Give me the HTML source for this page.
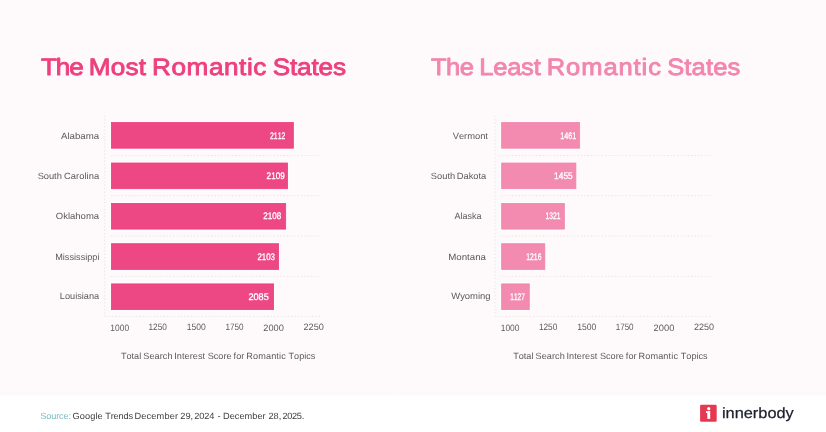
<!DOCTYPE html>
<html lang="en">
<head>
<meta charset="utf-8">
<title>The Most and Least Romantic States</title>
<style>
html,body{margin:0;padding:0;background:#fff;}
body{width:826px;height:432px;overflow:hidden;position:relative;}
svg{display:block;position:absolute;left:0;top:0;}
text{font-family:"Liberation Sans",sans-serif;text-rendering:geometricPrecision;white-space:pre;}
</style>
</head>
<body>
<svg width="826" height="432" viewBox="0 0 826 432">
<rect x="0" y="0" width="826" height="395.6" fill="#fef9fa"/>
<rect x="394.7" y="0" width="2.1" height="395.6" fill="#fefbfc"/>
<rect x="0" y="395.6" width="826" height="36.4" fill="#ffffff"/>
<text x="37.03 50.45 62.58 75.71 80.26 100.06 113.34 125.28 131.84 137.41 154.96 168.59 188.75 202.38 216.01 223.07 228.82 240.62 246.46 262.05 268.45 281.42 287.82 300.79" y="74.75" font-size="23.6" fill="#ee407e" stroke="#ee407e" stroke-width="0.85" stroke-linejoin="round" transform="scale(1.1068 1)">The Most Romantic States</text>
<line x1="104.75" y1="115.5" x2="104.75" y2="316.4" stroke="#eae4e7" stroke-width="0.85" stroke-dasharray="1.6 1.85"/>
<line x1="111.0" y1="155.5" x2="321.8" y2="155.5" stroke="#eae4e7" stroke-width="0.85" stroke-dasharray="1.6 1.85"/>
<line x1="111.0" y1="195.7" x2="321.8" y2="195.7" stroke="#eae4e7" stroke-width="0.85" stroke-dasharray="1.6 1.85"/>
<line x1="111.0" y1="236.0" x2="321.8" y2="236.0" stroke="#eae4e7" stroke-width="0.85" stroke-dasharray="1.6 1.85"/>
<line x1="111.0" y1="276.3" x2="321.8" y2="276.3" stroke="#eae4e7" stroke-width="0.85" stroke-dasharray="1.6 1.85"/>
<line x1="104.75" y1="316.4" x2="321.8" y2="316.4" stroke="#eae4e7" stroke-width="0.85" stroke-dasharray="1.6 1.85"/>
<rect x="110.00" y="121.10" width="184.75" height="28.50" fill="#ffffff"/>
<rect x="111.40" y="122.50" width="181.95" height="25.70" fill="#ee4884" stroke="#eb3e7b" stroke-width="0.8"/>
<text x="56.83 62.83 64.83 69.83 74.84 79.84 87.34" y="138.6" font-size="9" fill="#5a5a5a" transform="scale(1.0731 1)">Alabama</text>
<text x="381.02 386.4 391.78 397.16" y="139" font-size="9.6" fill="#ffffff" stroke="#ffffff" stroke-width="0.3" stroke-linejoin="round" transform="scale(0.7087 1)">2112</text>
<rect x="110.00" y="161.60" width="178.90" height="28.50" fill="#ffffff"/>
<rect x="111.40" y="163.00" width="176.10" height="25.70" fill="#ee4884" stroke="#eb3e7b" stroke-width="0.8"/>
<text x="36.27 42.22 47.16 52.11 54.55 59.56 61.55 68.1 73.15 76.2 81.25 83.3 85.35 90.41" y="178.8" font-size="9" fill="#5a5a5a" transform="scale(1.0386 1)">South Carolina</text>
<text x="316.51 321.87 327.23 332.59" y="178.9" font-size="9.6" fill="#ffffff" stroke="#ffffff" stroke-width="0.3" stroke-linejoin="round" transform="scale(0.8424 1)">2109</text>
<rect x="110.00" y="202.00" width="177.10" height="28.50" fill="#ffffff"/>
<rect x="111.40" y="203.40" width="174.30" height="25.70" fill="#ee4884" stroke="#eb3e7b" stroke-width="0.8"/>
<text x="52.86 59.86 64.36 66.36 71.37 76.37 81.38 88.87" y="219.2" font-size="9" fill="#5a5a5a" transform="scale(1.0556 1)">Oklahoma</text>
<text x="314.88 320.24 325.6 330.96" y="219.1" font-size="9.6" fill="#ffffff" stroke="#ffffff" stroke-width="0.3" stroke-linejoin="round" transform="scale(0.8359 1)">2108</text>
<rect x="110.00" y="242.30" width="170.00" height="28.50" fill="#ffffff"/>
<rect x="111.40" y="243.70" width="167.20" height="25.70" fill="#ee4884" stroke="#eb3e7b" stroke-width="0.8"/>
<text x="54.07 61.57 63.57 68.07 72.57 74.57 79.07 83.57 85.57 90.57 95.58" y="259.8" font-size="9" fill="#5a5a5a" transform="scale(1.0199 1)">Mississippi</text>
<text x="315.32 320.68 326.04 331.4" y="259.7" font-size="9.6" fill="#ffffff" stroke="#ffffff" stroke-width="0.3" stroke-linejoin="round" transform="scale(0.8166 1)">2103</text>
<rect x="110.00" y="282.50" width="165.00" height="28.50" fill="#ffffff"/>
<rect x="111.40" y="283.90" width="162.20" height="25.70" fill="#ee4884" stroke="#eb3e7b" stroke-width="0.8"/>
<text x="58.75 63.75 68.76 73.76 75.76 80.26 82.26 87.27 92.27" y="299.2" font-size="9" fill="#5a5a5a" transform="scale(1.0187 1)">Louisiana</text>
<text x="261.47 266.81 272.15 277.5" y="300" font-size="9.6" fill="#ffffff" stroke="#ffffff" stroke-width="0.3" stroke-linejoin="round" transform="scale(0.9502 1)">2085</text>
<text x="120.66 125.77 130.89 136.01" y="330.7" font-size="9.2" fill="#5a5a5a" transform="scale(0.9147 1)">1000</text>
<text x="165.59 170.71 175.82 180.94" y="330.3" font-size="9.2" fill="#5a5a5a" transform="scale(0.8966 1)">1250</text>
<text x="201.34 206.46 211.57 216.69" y="329.7" font-size="9.2" fill="#5a5a5a" transform="scale(0.9275 1)">1500</text>
<text x="255.78 260.9 266.01 271.13" y="330" font-size="9.2" fill="#5a5a5a" transform="scale(0.8812 1)">1750</text>
<text x="261.88 266.99 272.11 277.23" y="330.5" font-size="9.2" fill="#5a5a5a" transform="scale(1.0054 1)">2000</text>
<text x="305.79 310.9 316.02 321.14" y="330.4" font-size="9.2" fill="#5a5a5a" transform="scale(0.9927 1)">2250</text>
<text x="119.48 124.95 129.93 132.4 137.38 139.38 141.48 147.54 152.59 157.65 160.7 165.25 170.26 171.9 174.49 179.58 182.16 187.25 190.33 195.42 200.01 202.51 205 211 215.5 220.5 223.5 228.51 230.6 233.09 238.09 241.09 242.96 249.63 254.8 262.46 267.64 272.81 275.47 277.64 282.14 284.81 290.29 295.28 300.27 302.26 306.75" y="359.4" font-size="9" fill="#5a5a5a" transform="scale(1.0131 1)">Total Search Interest Score for Romantic Topics</text>
<text x="398.68 412.54 425.12 438.24 443.09 456.03 468.96 481.9 493.51 500.06 505.61 523.5 537.47 557.97 571.94 585.91 593.31 599.4 611.2 616.97 632.86 639.57 652.84 659.55 672.82" y="74.75" font-size="23.6" fill="#f286ae" stroke="#f286ae" stroke-width="0.85" stroke-linejoin="round" transform="scale(1.0814 1)">The Least Romantic States</text>
<line x1="495.0" y1="115.5" x2="495.0" y2="316.4" stroke="#eae4e7" stroke-width="0.85" stroke-dasharray="1.6 1.85"/>
<line x1="501.25" y1="155.5" x2="711.9" y2="155.5" stroke="#eae4e7" stroke-width="0.85" stroke-dasharray="1.6 1.85"/>
<line x1="501.25" y1="195.7" x2="711.9" y2="195.7" stroke="#eae4e7" stroke-width="0.85" stroke-dasharray="1.6 1.85"/>
<line x1="501.25" y1="236.0" x2="711.9" y2="236.0" stroke="#eae4e7" stroke-width="0.85" stroke-dasharray="1.6 1.85"/>
<line x1="501.25" y1="276.3" x2="711.9" y2="276.3" stroke="#eae4e7" stroke-width="0.85" stroke-dasharray="1.6 1.85"/>
<line x1="495.0" y1="316.4" x2="711.9" y2="316.4" stroke="#eae4e7" stroke-width="0.85" stroke-dasharray="1.6 1.85"/>
<rect x="500.25" y="121.10" width="80.85" height="28.50" fill="#ffffff"/>
<rect x="501.65" y="122.50" width="78.05" height="25.70" fill="#f38ab0" stroke="#f283ab" stroke-width="0.8"/>
<text x="436.72 442.72 447.72 450.72 458.22 463.22 468.23" y="138.6" font-size="9" fill="#5a5a5a" transform="scale(1.0366 1)">Vermont</text>
<text x="747.74 753.11 758.48 763.85" y="139" font-size="9.6" fill="#ffffff" stroke="#ffffff" stroke-width="0.3" stroke-linejoin="round" transform="scale(0.7491 1)">1461</text>
<rect x="500.25" y="161.60" width="77.05" height="28.50" fill="#ffffff"/>
<rect x="501.65" y="163.00" width="74.25" height="25.70" fill="#f38ab0" stroke="#f283ab" stroke-width="0.8"/>
<text x="415.94 421.95 426.96 431.97 434.48 439.48 440.96 447.45 452.45 456.95 461.95 464.45" y="178.8" font-size="9" fill="#5a5a5a" transform="scale(1.0358 1)">South Dakota</text>
<text x="636.64 641.99 647.35 652.7" y="178.9" font-size="9.6" fill="#ffffff" stroke="#ffffff" stroke-width="0.3" stroke-linejoin="round" transform="scale(0.8703 1)">1455</text>
<rect x="500.25" y="202.00" width="65.50" height="28.50" fill="#ffffff"/>
<rect x="501.65" y="203.40" width="62.70" height="25.70" fill="#f38ab0" stroke="#f283ab" stroke-width="0.8"/>
<text x="456.2 462.2 464.2 469.21 473.71 478.21" y="219.2" font-size="9" fill="#5a5a5a" transform="scale(0.9965 1)">Alaska</text>
<text x="782.57 787.95 793.34 798.72" y="219.1" font-size="9.6" fill="#ffffff" stroke="#ffffff" stroke-width="0.3" stroke-linejoin="round" transform="scale(0.6971 1)">1321</text>
<rect x="500.25" y="242.30" width="46.00" height="28.50" fill="#ffffff"/>
<rect x="501.65" y="243.70" width="43.20" height="25.70" fill="#f38ab0" stroke="#f283ab" stroke-width="0.8"/>
<text x="415.33 422.83 427.83 432.84 435.34 440.34 445.35" y="259.8" font-size="9" fill="#5a5a5a" transform="scale(1.0792 1)">Montana</text>
<text x="740.81 746.19 751.57 756.95" y="259.7" font-size="9.6" fill="#ffffff" stroke="#ffffff" stroke-width="0.3" stroke-linejoin="round" transform="scale(0.7103 1)">1216</text>
<rect x="500.25" y="282.50" width="30.45" height="28.50" fill="#ffffff"/>
<rect x="501.65" y="283.90" width="27.65" height="25.70" fill="#f38ab0" stroke="#f283ab" stroke-width="0.8"/>
<text x="429.52 438.02 442.52 447.52 455.02 457.02 462.03" y="299.2" font-size="9" fill="#5a5a5a" transform="scale(1.0505 1)">Wyoming</text>
<text x="750.12 755.51 760.89 766.28" y="300" font-size="9.6" fill="#ffffff" stroke="#ffffff" stroke-width="0.3" stroke-linejoin="round" transform="scale(0.6802 1)">1127</text>
<text x="545.94 551.06 556.18 561.29" y="330.7" font-size="9.2" fill="#5a5a5a" transform="scale(0.9172 1)">1000</text>
<text x="597.57 602.68 607.8 612.92" y="330.3" font-size="9.2" fill="#5a5a5a" transform="scale(0.9018 1)">1250</text>
<text x="618.8 623.91 629.03 634.15" y="329.7" font-size="9.2" fill="#5a5a5a" transform="scale(0.9327 1)">1500</text>
<text x="702.83 707.95 713.07 718.18" y="330" font-size="9.2" fill="#5a5a5a" transform="scale(0.8760 1)">1750</text>
<text x="645.23 650.35 655.47 660.58" y="330.5" font-size="9.2" fill="#5a5a5a" transform="scale(1.0130 1)">2000</text>
<text x="708.26 713.38 718.5 723.61" y="330.4" font-size="9.2" fill="#5a5a5a" transform="scale(0.9799 1)">2250</text>
<text x="506.65 512.12 517.1 519.57 524.55 526.55 528.65 534.71 539.76 544.82 547.87 552.42 557.43 559.07 561.66 566.75 569.33 574.42 577.51 582.6 587.18 589.68 592.17 598.17 602.67 607.68 610.67 615.68 617.77 620.26 625.26 628.26 630.13 636.8 641.97 649.63 654.81 659.98 662.64 664.81 669.31 671.98 677.46 682.45 687.44 689.43 693.92" y="359.4" font-size="9" fill="#5a5a5a" transform="scale(1.0131 1)">Total Search Interest Score for Romantic Topics</text>
<text x="39.23 45.1 49.97 54.85 57.71 62.08 66.95 69.45 70.81 77.9 82.99 88.09 93.18 95.27 100.27 102.7 108.03 110.86 115.7 120.54 125.38 129.88 131.25 137.92 143.09 147.75 152.92 160.59 165.76 170.93 173.92 175.96 181 186.04 188.54 189.72 194.61 199.49 204.37 209.38 212.3 215.3 217.75 224.26 229.28 233.79 238.81 246.32 251.33 256.35 259.35 262.07 267.06 272.05 274.55 275.73 280.43 285.13 289.82 294.52" y="418.5" font-size="9" fill="#404040" transform="scale(1.0243 1)"><tspan fill="#7cbcc5">Source:</tspan> Google Trends December 29, 2024 - December 28, 2025.</text>
<rect x="700.1" y="404.7" width="16.6" height="17" rx="1.2" ry="1.2" fill="#e63850"/>
<circle cx="708.75" cy="408.65" r="1.6" fill="#ffffff"/>
<rect x="707.3" y="411" width="2.9" height="7.9" fill="#ffffff"/>
<rect x="706" y="411" width="1.6" height="2" fill="#ffffff"/>
<text x="661.72 665.05 673.39 681.73 690.07 695.06 703.4 711.74 720.08" y="418.45" font-size="15" fill="#1d1f2c" stroke="#1d1f2c" stroke-width="0.25" stroke-linejoin="round" transform="scale(1.0910 1)">innerbody</text>
</svg>
</body>
</html>
